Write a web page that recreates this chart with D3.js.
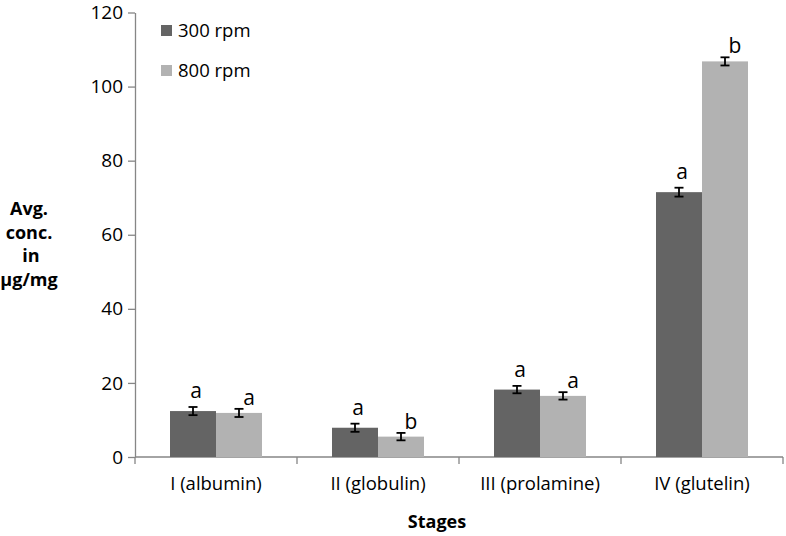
<!DOCTYPE html>
<html><head><meta charset="utf-8">
<script src="https://cdn.jsdelivr.net/npm/d3@7"></script>
<style>body{margin:0;background:#fff}text{font-family:"Open Sans",sans-serif}</style>
</head><body><svg id="c" width="786" height="536"></svg>
<script>
const categories = ["I (albumin)", "II (globulin)", "III (prolamine)", "IV (glutelin)"];
const seriesNames = ["300 rpm", "800 rpm"];
const values300 = [12.4, 7.9, 18.2, 71.5];
const values800 = [11.9, 5.5, 16.5, 106.8];
const err300 = [1.1, 1.1, 1.0, 1.2];
const err800 = [1.1, 1.0, 1.0, 1.1];
const letters300 = ["a", "a", "a", "a"];
const letters800 = ["a", "b", "a", "b"];
const yTicks = [0, 20, 40, 60, 80, 100, 120];
const colors = ["#646464", "#b2b2b2"];

const svg = d3.select("#c");
const m = {l: 135, r: 3, t: 12.5, b: 79};
const W = 786, H = 536;
const x0 = d3.scaleBand().domain(categories).range([m.l, W - m.r]).paddingInner(0).paddingOuter(0);
const x1 = d3.scaleBand().domain([0, 1]).range([0, 92]);
const y = d3.scaleLinear().domain([0, 120]).range([H - m.b, m.t]);
const axisColor = "#868686";

// y axis
const ya = svg.append("g").attr("transform", `translate(${m.l},0)`)
  .call(d3.axisLeft(y).tickValues(yTicks).tickSize(7).tickSizeOuter(0).tickPadding(5));
ya.select(".domain").attr("stroke", axisColor).attr("stroke-width", 1.3);
ya.selectAll(".tick line").attr("stroke", axisColor).attr("stroke-width", 1.3);
ya.selectAll(".tick text").attr("font-size", 19).attr("fill", "#000").attr("font-family", "Open Sans");

// x axis
const bounds = categories.map(c => x0(c)).concat([x0(categories[3]) + x0.bandwidth()]);
const xg = svg.append("g");
xg.append("line").attr("x1", m.l).attr("x2", W - m.r).attr("y1", y(0)).attr("y2", y(0))
  .attr("stroke", axisColor).attr("stroke-width", 1.3);
xg.selectAll("line.t").data(bounds).join("line").attr("class", "t")
  .attr("x1", d => d).attr("x2", d => d).attr("y1", y(0)).attr("y2", y(0) + 7)
  .attr("stroke", axisColor).attr("stroke-width", 1.3);
xg.selectAll("text").data(categories).join("text")
  .attr("x", d => x0(d) + x0.bandwidth() / 2).attr("y", 490)
  .attr("text-anchor", "middle").attr("font-size", 18.5).text(d => d);

// bars
const series = [values300, values800];
const errs = [err300, err800];
const lets = [letters300, letters800];
const letOff = [[3, -9], [10, -4]];
series.forEach((vals, s) => {
  const g = svg.append("g");
  const bx = (i) => x0(categories[i]) + (x0.bandwidth() - 92) / 2 + x1(s);
  g.selectAll("rect").data(vals).join("rect")
    .attr("x", (d, i) => bx(i)).attr("width", x1.bandwidth())
    .attr("y", d => y(d)).attr("height", d => y(0) - y(d)).attr("fill", colors[s]);
  vals.forEach((v, i) => {
    const cx = bx(i) + x1.bandwidth() / 2;
    const e = errs[s][i];
    g.append("line").attr("x1", cx).attr("x2", cx).attr("y1", y(v + e)).attr("y2", y(v - e)).attr("stroke", "#000").attr("stroke-width", 1.8);
    [v + e, v - e].forEach(t => g.append("line").attr("x1", cx - 4.5).attr("x2", cx + 4.5).attr("y1", y(t)).attr("y2", y(t)).attr("stroke", "#000").attr("stroke-width", 1.8));
    g.append("text").attr("x", cx + letOff[s][0]).attr("y", y(v + e) + letOff[s][1])
      .attr("text-anchor", "middle").attr("font-size", 21).text(lets[s][i]);
  });
});

// legend
seriesNames.forEach((n, i) => {
  const ly = 25 + i * 40;
  svg.append("rect").attr("x", 161).attr("y", ly).attr("width", 11).attr("height", 11).attr("fill", colors[i]);
  svg.append("text").attr("x", 178).attr("y", ly + 11.5).attr("font-size", 18.5).text(n);
});

// axis titles
svg.append("text").attr("x", 437).attr("y", 528).attr("text-anchor", "middle")
  .attr("font-size", 18).attr("font-weight", "bold").text("Stages");
const yl = ["Avg.", "conc.", "in", "µg/mg"];
svg.append("g").selectAll("text").data(yl).join("text")
  .attr("x", (d, i) => i === 2 ? 31 : 29).attr("y", (d, i) => 215 + i * 23.5)
  .attr("text-anchor", "middle").attr("font-size", 18).attr("font-weight", "bold").text(d => d);
</script></body></html>
